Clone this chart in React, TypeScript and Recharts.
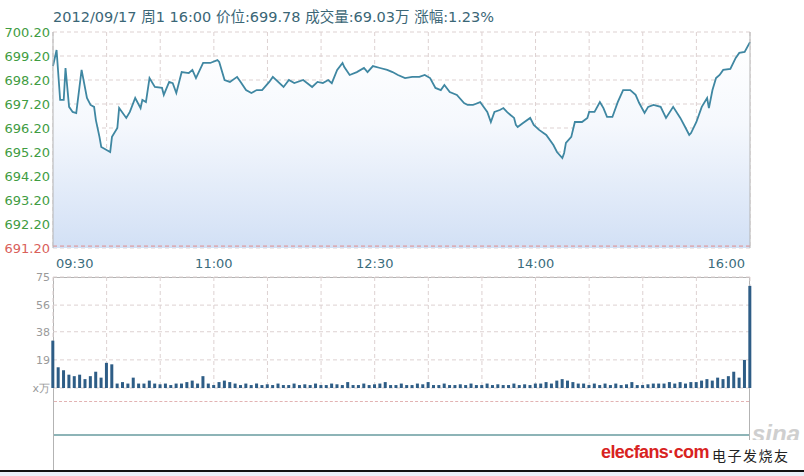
import { Area, Bar, BarChart, CartesianGrid, ComposedChart, ReferenceLine, XAxis, YAxis } from "recharts";

const TITLE = "2012/09/17 周1 16:00 价位:699.78 成交量:69.03万 涨幅:1.23%";

const TIME_LABELS = ["09:30", "11:00", "12:30", "14:00", "16:00"];
const TIME_LABEL_MINUTES = [0, 90, 180, 270, 390];
const GRID_MINUTES = [0, 30, 60, 90, 120, 150, 180, 210, 240, 270, 300, 330, 360, 390];

const PRICE_TICKS = [691.2, 692.2, 693.2, 694.2, 695.2, 696.2, 697.2, 698.2, 699.2, 700.2];
const PCT_LABELS = ["-0.01%", "0.13%", "0.28%", "0.42%", "0.57%", "0.71%", "0.86%", "1.00%", "1.15%", "1.29%"];
const PREV_CLOSE = 691.28;

// minutes after 09:30 and price
const PRICE_MINUTES = [
  0, 2, 4, 6, 7, 9, 11, 13, 16, 19,
  21, 23, 24, 26, 27, 30, 32, 33, 36, 37,
  41, 43, 46, 49, 50, 52, 54, 57, 61, 62,
  65, 67, 69, 72, 76, 78, 80, 84, 88, 92,
  93, 96, 99, 103, 105, 108, 111, 114, 117, 121,
  123, 129, 132, 135, 140, 145, 148, 151, 154, 156,
  159, 162, 163, 166, 170, 174, 176, 179, 183, 187,
  190, 193, 197, 201, 205, 208, 211, 214, 217, 219,
  222, 226, 230, 232, 235, 239, 243, 245, 247, 250,
  252, 254, 256, 258, 259, 260, 263, 267, 269, 272,
  276, 280, 282, 285, 286, 287, 290, 292, 296, 299,
  300, 303, 306, 308, 310, 313, 316, 319, 323, 326,
  328, 331, 333, 336, 340, 343, 347, 351, 354, 356,
  357, 360, 363, 366, 367, 369, 371, 373, 375, 379,
  382, 384, 387, 390,
];
const PRICES = [
  698.78, 699.45, 697.37, 697.37, 698.7, 697.08, 696.87, 696.82, 698.62, 697.45,
  697.16, 697.08, 696.53, 695.83, 695.41, 695.28, 695.2, 695.83, 696.2, 697.03,
  696.62, 696.87, 697.45, 697.03, 697.37, 697.28, 698.28, 697.91, 697.87, 697.58,
  698.12, 698.07, 697.66, 698.53, 698.49, 698.62, 698.28, 698.91, 698.91, 699.03,
  698.95, 698.2, 698.12, 698.33, 698.12, 697.78, 697.66, 697.78, 697.78, 698.12,
  698.33, 697.91, 698.2, 698.07, 698.2, 697.91, 698.12, 698.07, 698.2, 698.07,
  698.62, 698.91, 698.74, 698.41, 698.53, 698.7, 698.53, 698.78, 698.7, 698.62,
  698.53, 698.41, 698.28, 698.33, 698.33, 698.41, 698.28, 697.87, 697.78, 697.99,
  697.7, 697.58, 697.24, 697.16, 697.16, 697.28, 696.87, 696.45, 696.87, 696.95,
  697.03, 696.87, 696.74, 696.62, 696.33, 696.24, 696.41, 696.62, 696.33, 696.12,
  695.91, 695.49, 695.2, 694.95, 695.16, 695.58, 695.83, 696.45, 696.45, 696.62,
  696.87, 696.87, 697.28, 697.03, 696.66, 696.66, 697.28, 697.78, 697.78, 697.58,
  697.24, 696.83, 697.08, 697.16, 697.08, 696.62, 697.08, 696.62, 696.2, 695.91,
  695.99, 696.45, 697.08, 697.45, 697.03, 697.78, 698.28, 698.41, 698.62, 698.66,
  699.12, 699.33, 699.37, 699.78,
];

// volume (万), one bar every 3 minutes
const VOLUME_STEP = 3;
const VOLUMES = [
  32, 14, 12, 9, 8, 9, 6, 8, 11, 7,
  17, 16, 3, 4, 3, 7, 3, 3, 5, 3,
  2.5, 3, 2, 3, 3, 4, 5, 3, 8, 3,
  2, 4, 5, 4, 3, 2, 3, 2, 3, 2,
  2.5, 2, 3, 2, 2, 3, 2, 2.5, 2, 3,
  2, 2, 3, 2.5, 2, 4, 2, 2, 3, 2,
  2.5, 3, 4, 2, 2, 3, 2, 2, 3, 2.5,
  4, 2, 2, 3, 2, 2, 2.5, 2, 3, 2,
  2, 3, 2, 2.5, 2, 2, 3, 2, 2.5, 2,
  3, 3, 4, 3, 5, 6, 5, 4, 3, 3,
  2, 3, 2, 3, 2, 3, 2, 2.5, 4, 2,
  2, 2.5, 3, 3, 3, 4, 3, 4, 3, 4,
  4, 5, 6, 5, 7, 6, 8, 11, 7, 19,
  69,
];
const VOL_TICKS = [0, 19, 38, 56, 75];

const priceData = PRICE_MINUTES.map((m, i) => ({ m, p: PRICES[i] }));
const volumeData = VOLUMES.map((v, i) => ({ m: i * VOLUME_STEP, v }));

const FONT = "'DejaVu Sans', Verdana, sans-serif";
const GRID = "#ddd1d1";
const FRAME = "#b3b3b3";

function NoTick() {
  return <g />;
}

function PriceTick({ x, y, payload }: any) {
  const low = payload.value === PRICE_TICKS[0];
  return (
    <text x={x} y={y} dy={5} textAnchor="end" fontSize={13} fontFamily={FONT} fill={low ? "#d9605a" : "#3f9c42"}>
      {payload.value.toFixed(2)}
    </text>
  );
}

function PctTick({ x, y, payload }: any) {
  const i = PRICE_TICKS.indexOf(payload.value);
  return (
    <text x={x} y={y} dy={5} textAnchor="start" fontSize={13} fontFamily={FONT} fill={i === 0 ? "#d9605a" : "#3f9c42"}>
      {PCT_LABELS[i]}
    </text>
  );
}

function TimeTick({ x, y, payload }: any) {
  const i = TIME_LABEL_MINUTES.indexOf(payload.value);
  const last = TIME_LABELS.length - 1;
  const anchor = i === 0 ? "start" : i === last ? "end" : "middle";
  const dx = i === 0 ? 3 : i === last ? -5 : 0;
  return (
    <text x={x + dx} y={y} dy={20} textAnchor={anchor} fontSize={13} fontFamily={FONT} fill="#3b6c7c">
      {TIME_LABELS[i]}
    </text>
  );
}

function VolTick({ x, y, payload }: any) {
  return (
    <text x={x} y={y} dy={4} textAnchor="end" fontSize={11} fontFamily={FONT} fill="#9a9a9a">
      {payload.value === 0 ? "x万" : payload.value}
    </text>
  );
}

export default function App() {
  return (
    <div style={{ position: "absolute", left: 0, top: 0, width: 804, height: 476, background: "#fff", overflow: "hidden" }}>
      <div
        style={{
          position: "absolute",
          left: 53,
          top: 7,
          fontSize: 14.5,
          lineHeight: "20px",
          fontFamily: FONT + ", 'Noto Sans CJK SC'",
          color: "#3a6676",
          whiteSpace: "nowrap",
        }}
      >
        {TITLE}
      </div>

      <div style={{ position: "absolute", left: 0, top: 0 }}>
        <ComposedChart width={804} height={270} data={priceData} margin={{ top: 32, right: 0, bottom: 2, left: 0 }}>
          <defs>
            <linearGradient id="priceFill" x1="0" y1="0" x2="0" y2="1">
              <stop offset="0%" stopColor="#ffffff" />
              <stop offset="40%" stopColor="#f5f8fd" />
              <stop offset="100%" stopColor="#d2e0f5" />
            </linearGradient>
          </defs>
          <XAxis
            xAxisId="grid"
            orientation="top"
            type="number"
            dataKey="m"
            domain={[0, 390]}
            ticks={GRID_MINUTES}
            interval={0}
            height={0}
            tickSize={0}
            tick={<NoTick />}
            tickLine={false}
            axisLine={{ stroke: FRAME }}
          />
          <XAxis
            dataKey="m"
            type="number"
            domain={[0, 390]}
            ticks={TIME_LABEL_MINUTES}
            interval={0}
            height={20}
            tickSize={0}
            tickMargin={0}
            axisLine={false}
            tickLine={false}
            tick={<TimeTick />}
          />
          <YAxis
            yAxisId="l"
            domain={[691.2, 700.2]}
            ticks={PRICE_TICKS}
            interval={0}
            width={53}
            tickSize={0}
            tickMargin={3}
            tickLine={false}
            axisLine={{ stroke: FRAME }}
            tick={<PriceTick />}
          />
          <YAxis
            yAxisId="r"
            orientation="right"
            domain={[691.2, 700.2]}
            ticks={PRICE_TICKS}
            interval={0}
            width={54}
            tickSize={0}
            tickMargin={4}
            tickLine={false}
            axisLine={{ stroke: FRAME }}
            tick={<PctTick />}
          />
          <CartesianGrid xAxisId="grid" yAxisId="l" stroke={GRID} strokeDasharray="4 3" />
          <Area
            yAxisId="l"
            type="linear"
            dataKey="p"
            stroke="#3f87a2"
            strokeWidth={1.8}
            fill="url(#priceFill)"
            fillOpacity={1}
            dot={false}
            activeDot={false}
            isAnimationActive={false}
          />
          <ReferenceLine yAxisId="l" y={PREV_CLOSE} stroke="#e08a8a" strokeDasharray="4 3" />
        </ComposedChart>
      </div>

      {/* volume panel frame and empty lower sub-panel */}
      <div style={{ position: "absolute", left: 53, top: 277, width: 697, height: 194, border: `1px solid ${FRAME}`, boxSizing: "border-box" }} />
      <div style={{ position: "absolute", left: 54, top: 401, width: 695, borderTop: "1px dashed #e2b3b3" }} />
      <div style={{ position: "absolute", left: 54, top: 434, width: 695, height: 2, background: "#8db4b7" }} />

      <div style={{ position: "absolute", left: 0, top: 265 }}>
        <BarChart width={804} height={134} data={volumeData} margin={{ top: 12, right: 54, bottom: 11, left: 0 }}>
          <XAxis
            dataKey="m"
            type="number"
            domain={[0, 390]}
            ticks={GRID_MINUTES}
            interval={0}
            height={0}
            tickSize={0}
            tick={<NoTick />}
            tickLine={false}
            axisLine={false}
          />
          <YAxis
            domain={[0, 75]}
            ticks={VOL_TICKS}
            interval={0}
            width={53}
            tickSize={0}
            tickMargin={3}
            axisLine={false}
            tickLine={false}
            tick={<VolTick />}
          />
          <CartesianGrid stroke={GRID} strokeDasharray="4 3" />
          <Bar dataKey="v" fill="#2e5d86" barSize={3} isAnimationActive={false} />
        </BarChart>
      </div>

      {/* watermark */}
      <div style={{ position: "absolute", left: 752, top: 420, fontSize: 24, fontStyle: "italic", fontWeight: "bold", color: "#cfcfcf", fontFamily: "'Liberation Sans', Arial, sans-serif" }}>
        sina
      </div>
      <div style={{ position: "absolute", left: 598, top: 440, width: 206, height: 30, background: "#fff" }} />
      <div
        style={{
          position: "absolute",
          left: 601,
          top: 442,
          fontSize: 18,
          fontWeight: "bold",
          color: "#d8231f",
          letterSpacing: -0.6,
          fontFamily: "'Liberation Sans', Arial, sans-serif",
        }}
      >
        elecfans·com
      </div>
      <div style={{ position: "absolute", left: 712, top: 445, fontSize: 14, letterSpacing: 1.5, color: "#222", fontFamily: "'Noto Sans CJK SC', sans-serif" }}>
        电子发烧友
      </div>

      <div style={{ position: "absolute", left: 0, top: 470, width: 804, height: 2, background: "#111" }} />
      <div style={{ position: "absolute", left: 0, top: 472, width: 804, height: 4, background: "#e9eff8" }} />
    </div>
  );
}
